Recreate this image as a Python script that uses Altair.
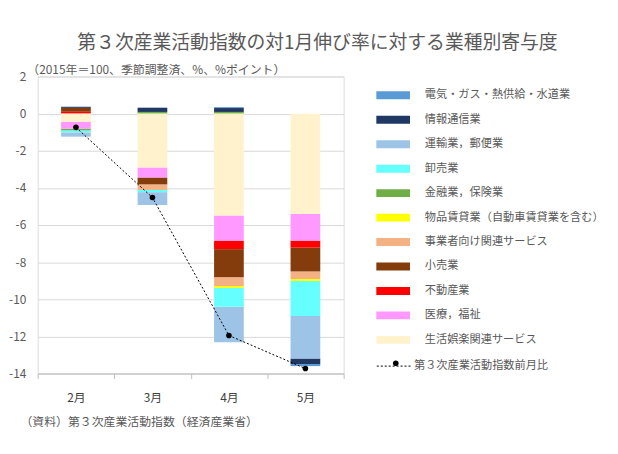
import altair as alt
import pandas as pd

FONT = "Noto Sans CJK JP"

months = ["2月", "3月", "4月", "5月"]

series_names = [
    "電気・ガス・熱供給・水道業",
    "情報通信業",
    "運輸業，郵便業",
    "卸売業",
    "金融業，保険業",
    "物品賃貸業（自動車賃貸業を含む）",
    "事業者向け関連サービス",
    "小売業",
    "不動産業",
    "医療，福祉",
    "生活娯楽関連サービス",
]
series_colors = [
    "#5b9bd5", "#203864", "#9dc3e6", "#66ffff", "#70ad47", "#ffff00",
    "#f4b183", "#843c0c", "#ff0000", "#ff99ff", "#fff2cc",
]

denki = [0.0, 0.0, 0.05, -0.11]
joho = [0.06, 0.23, 0.21, -0.30]
unyu = [-0.23, -0.69, -1.92, -2.29]
oroshi = [-0.11, -0.12, -1.01, -1.88]
kinyu = [-0.08, 0.09, 0.09, 0.0]
buppin = [0.0, 0.0, -0.10, -0.11]
jigyosha = [0.0, -0.30, -0.48, -0.41]
kouri = [0.21, -0.37, -1.51, -1.28]
fudosan = [0.10, 0.0, -0.46, -0.38]
iryo = [-0.38, -0.54, -1.35, -1.44]
seikatsu = [-0.44, -2.90, -5.49, -5.40]

index_label = "第３次産業活動指数前月比"
index_values = [-0.74, -4.52, -11.95, -13.73]

series_values = [denki, joho, unyu, oroshi, kinyu, buppin, jigyosha, kouri,
                 fudosan, iryo, seikatsu]

rows = []
n = len(series_names)
for i, (name, vals) in enumerate(zip(series_names, series_values)):
    for m, v in zip(months, vals):
        rows.append({"month": m, "series": name, "value": v, "ord": n - 1 - i})
df = pd.DataFrame(rows)

df_idx = pd.DataFrame({"month": months, "value": index_values,
                       "label": [index_label] * len(months)})

LEG_X = 342
LEG_Y = 2
LEG_FS = 11.3

x_axis = alt.Axis(
    title="（資料）第３次産業活動指数（経済産業省）",
    titleX=-18, titleY=48, titleAlign="left", titleBaseline="middle",
    titleFontWeight="normal", titleFontSize=12, titleColor="#595959",
    titleFont=FONT,
    labelAngle=0, labelFontSize=12, labelColor="#404040", labelFont=FONT,
    labelPadding=14, domainColor="#bfbfbf", tickColor="#bfbfbf",
    tickSize=5, tickBand="extent", grid=False,
)
x_scale = alt.Scale(paddingInner=0, paddingOuter=0)

y_axis = alt.Axis(
    values=list(range(-14, 3, 2)), labelExpr="'' + datum.value",
    labelOverlap=False, labelBound=False,
    domain=False, ticks=False, grid=True, gridColor="#d9d9d9",
    labelColor="#595959", labelFontSize=12, labelPadding=12, labelFont=FONT,
    title="（2015年＝100、季節調整済、%、%ポイント）",
    titleAngle=0, titleX=-11, titleY=-7, titleAlign="left",
    titleBaseline="middle", titleFontWeight="normal", titleFontSize=12,
    titleColor="#595959", titleFont=FONT,
)
y_scale = alt.Scale(domain=[-14, 2], nice=False)

bars = alt.Chart(df).mark_bar(width=30).encode(
    x=alt.X("month:N", sort=months, scale=x_scale, axis=x_axis),
    y=alt.Y("value:Q", stack="zero", scale=y_scale, axis=y_axis),
    color=alt.Color(
        "series:N", sort=series_names,
        scale=alt.Scale(domain=series_names, range=series_colors),
        legend=alt.Legend(
            title=None, orient="none", legendX=LEG_X, legendY=LEG_Y,
            symbolType="M-1,-0.235H1V0.235H-1Z", symbolSize=1156,
            symbolStrokeWidth=0, labelOffset=15, labelFontSize=LEG_FS,
            labelColor="#595959", labelFont=FONT, labelLimit=400,
            rowPadding=1.7, padding=0,
        ),
    ),
    order=alt.Order("ord:Q", sort="ascending"),
)

line = alt.Chart(df_idx).mark_line(
    color="black", strokeWidth=1, strokeDash=[2, 2]
).encode(
    x=alt.X("month:N", sort=months, scale=x_scale, axis=x_axis),
    y=alt.Y("value:Q", scale=y_scale, axis=y_axis),
    strokeDash=alt.StrokeDash(
        "label:N", scale=alt.Scale(range=[[2, 2]]),
        legend=alt.Legend(
            title=None, orient="none", legendX=LEG_X, legendY=275,
            symbolType="M-1,0H1", symbolSize=1156,
            symbolStrokeColor="black", symbolStrokeWidth=1,
            labelOffset=3, labelFontSize=LEG_FS,
            labelColor="#595959", labelFont=FONT, labelLimit=400, padding=0,
        ),
    ),
)

points = alt.Chart(df_idx).mark_point(
    filled=True, size=32, color="black", opacity=1,
).encode(
    x=alt.X("month:N", sort=months, scale=x_scale, axis=x_axis),
    y=alt.Y("value:Q", scale=y_scale, axis=y_axis),
    opacity=alt.Opacity(
        "label:N", scale=alt.Scale(range=[1, 1]),
        legend=alt.Legend(
            title=None, orient="none", legendX=356, legendY=284,
            symbolType="circle", symbolSize=32, symbolFillColor="black",
            symbolStrokeWidth=0, labelOffset=3, labelFontSize=LEG_FS,
            labelExpr="''", labelFont=FONT, padding=0,
        ),
    ),
)

chart = alt.layer(bars, line, points).properties(
    width=309, height=300,
    autosize=alt.AutoSizeParams(type="none"),
    padding={"left": 30, "top": 67, "right": 269, "bottom": 71},
    title=alt.TitleParams(
        text="第３次産業活動指数の対1月伸び率に対する業種別寄与度",
        anchor="start", frame="group", dx=40, offset=11, fontSize=19,
        fontWeight="normal", color="#595959", font=FONT,
    ),
).configure_view(stroke=None).configure(font=FONT)

chart.save("out.html", embed_options={"renderer": "svg", "actions": False})
